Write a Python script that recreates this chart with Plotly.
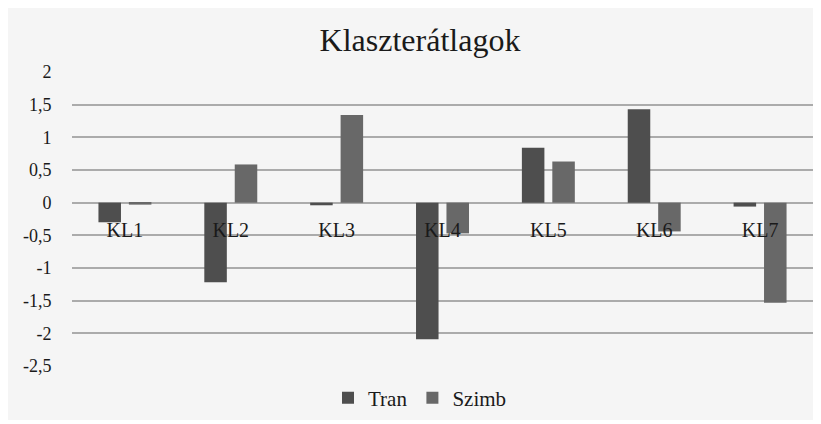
import plotly.graph_objects as go

categories = ["KL1", "KL2", "KL3", "KL4", "KL5", "KL6", "KL7"]
tran = [-0.30, -1.22, -0.04, -2.09, 0.84, 1.43, -0.06]
szimb = [-0.03, 0.585, 1.34, -0.47, 0.63, -0.44, -1.53]
ytick_vals = [2, 1.5, 1, 0.5, 0, -0.5, -1, -1.5, -2, -2.5]
ytick_text = ["2", "1,5", "1", "0,5", "0", "-0,5", "-1", "-1,5", "-2", "-2,5"]

FONT = "Liberation Serif"
OFF = 8  # page body margin
W, H = 821 - OFF, 424 - OFF
ML, MR, MT, MB = 64, 8, 64, 58
pw = W - ML - MR
ph = H - MT - MB

fig = go.Figure()
fig.add_trace(go.Bar(name="Tran", x=categories, y=tran, marker_color="#4e4e4e",
                     marker_line_width=0))
fig.add_trace(go.Bar(name="Szimb", x=categories, y=szimb, marker_color="#686868",
                     marker_line_width=0))

zero_pos = (0 - (-2.5)) / (2 - (-2.5))

fig.update_layout(
    width=W, height=H,
    margin=dict(l=ML, r=MR, t=MT, b=MB, autoexpand=False),
    paper_bgcolor="white",
    plot_bgcolor="rgba(0,0,0,0)",
    barmode="group",
    bargap=0.425,
    bargroupgap=0.26,
    font=dict(family=FONT, color="#1a1a1a", size=18),
    title=dict(text="Klaszterátlagok", x=(420 - OFF) / W, xanchor="center",
               y=1 - (40 - OFF) / H, yanchor="middle",
               font=dict(family=FONT, size=32, color="#1a1a1a")),
    legend=dict(orientation="h", x=(420 - OFF - ML) / pw, xanchor="center",
                y=-(398 - OFF - (H - MB)) / ph,
                yanchor="middle", font=dict(family=FONT, size=21, color="#1a1a1a"),
                bgcolor="rgba(0,0,0,0)", itemwidth=30, traceorder="normal",
                tracegroupgap=0),
    xaxis=dict(anchor="free", position=zero_pos, showgrid=False, showline=False,
               zeroline=False, ticks="outside", ticklen=9, tickcolor="rgba(0,0,0,0)",
               automargin=False,
               tickfont=dict(family=FONT, size=20, color="#1a1a1a")),
    yaxis=dict(range=[-2.5, 2], tickvals=ytick_vals, ticktext=ytick_text,
               showgrid=True, gridcolor="#ababab", gridwidth=2,
               zeroline=True, zerolinecolor="#ababab", zerolinewidth=2,
               showline=False, ticks="outside", ticklen=16,
               tickcolor="rgba(0,0,0,0)", automargin=False,
               tickfont=dict(family=FONT, size=18, color="#1a1a1a")),
    shapes=[dict(type="rect", xref="paper", yref="paper", layer="below",
                 x0=-ML / pw, x1=(816 - OFF - ML) / pw,
                 y0=-(420 - OFF - (H - MB)) / ph, y1=(H - MB) / ph,
                 fillcolor="#f5f5f5", line=dict(width=0))],
)

fig.write_html("out.html")
